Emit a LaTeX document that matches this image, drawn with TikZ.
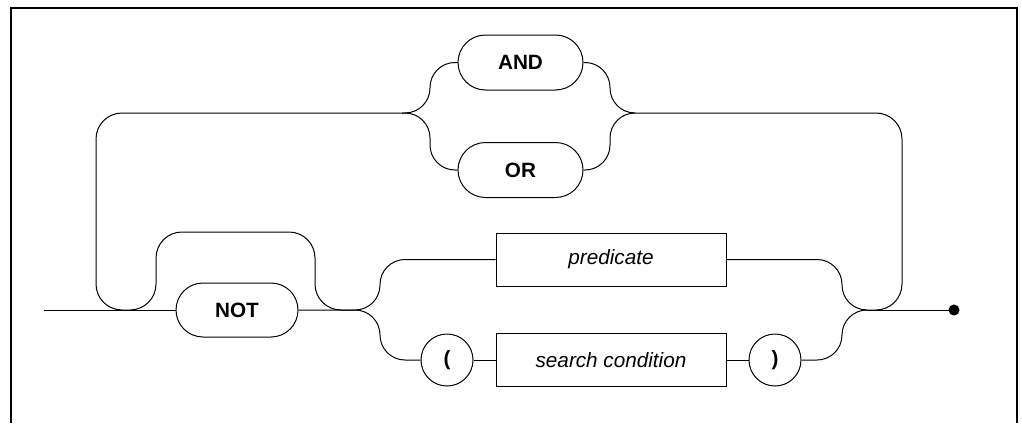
\documentclass[tikz,border=0pt]{standalone}
\usepackage{fontspec}
\newfontfamily\railfont{Liberation Sans}
\usetikzlibrary{shapes.misc}
\begin{document}
\begin{tikzpicture}[x=1pt,y=-1pt,line width=1pt,
  terminal/.style={draw, rounded rectangle, minimum width=125pt, minimum height=55pt,
    inner sep=0pt, font=\railfont\fontsize{20.7}{24}\selectfont\bfseries},
  nonterminal/.style={draw, rectangle, minimum width=230pt, minimum height=53pt,
    inner sep=0pt, font=\railfont\fontsize{20.7}{24}\selectfont\itshape},
  paren/.style={draw, circle, minimum size=52pt, inner sep=0pt,
    font=\railfont\fontsize{20.7}{24}\selectfont\bfseries},
  rail/.style={draw, rounded corners=26pt},
  endpoint/.style={circle, draw, fill, inner sep=0pt, minimum size=10pt}]
\useasboundingbox (0,0) rectangle (1022,423);

% open frame
\draw[line width=1.3pt] (11,423) -- (11,8) -- (1017,8) -- (1017,423);

% syntax elements
\node[terminal, minimum width=122pt, minimum height=54pt] (not) at (237,310) {NOT};
\node[terminal] (and) at (520.5,62.5) {AND};
\node[terminal] (or) at (520.5,170) {OR};
\node[nonterminal] (pred) at (611,259.5) {predicate};
\node[nonterminal] (cond) at (611,360) {search condition};
\node[paren] (lp) at (447,360) {(};
\node[paren] (rp) at (775,360) {)};
\node[endpoint] (end) at (954,310) {};

% junctions
\coordinate (start) at (44,310);
\coordinate (jL) at (123,310);
\coordinate (jR) at (352,310);
\coordinate (jE) at (867,310);
\coordinate (sL) at (402,113);
\coordinate (sR) at (635,113);

% main line
\draw (start) -- (not);
\draw (not) -- (jR);
\draw (jE) -- (end);

% optional NOT
\draw[rail] (jL) -- (156,310) -- (156,232) -- (315,232) -- (315,310) -- (jR);

% repetition loop through AND / OR
\draw[rail] (jL) -- (96,310) -- (96,113) -- (sL);
\draw[rail, rounded corners=25pt] (sL) -- (430,113) -- (430,62.5) -- (and.west);
\draw[rail, rounded corners=25pt] (sL) -- (430,113) -- (430,170) -- (or.west);
\draw[rail, rounded corners=25pt] (and.east) -- (610,62.5) -- (610,113) -- (sR);
\draw[rail, rounded corners=25pt] (or.east) -- (610,170) -- (610,113) -- (sR);
\draw[rail] (sR) -- (902,113) -- (902,310) -- (jE);

% predicate or parenthesised search condition
\draw[rail, rounded corners=25pt] (jR) -- (380,310) -- (380,259.5) -- (pred.west);
\draw[rail, rounded corners=25pt] (jR) -- (380,310) -- (380,360) -- (lp.west);
\draw (lp) -- (cond);
\draw (cond) -- (rp);
\draw[rail, rounded corners=25pt] (pred.east) -- (842,259.5) -- (842,310) -- (jE);
\draw[rail, rounded corners=25pt] (rp.east) -- (842,360) -- (842,310) -- (jE);
\end{tikzpicture}
\end{document}
